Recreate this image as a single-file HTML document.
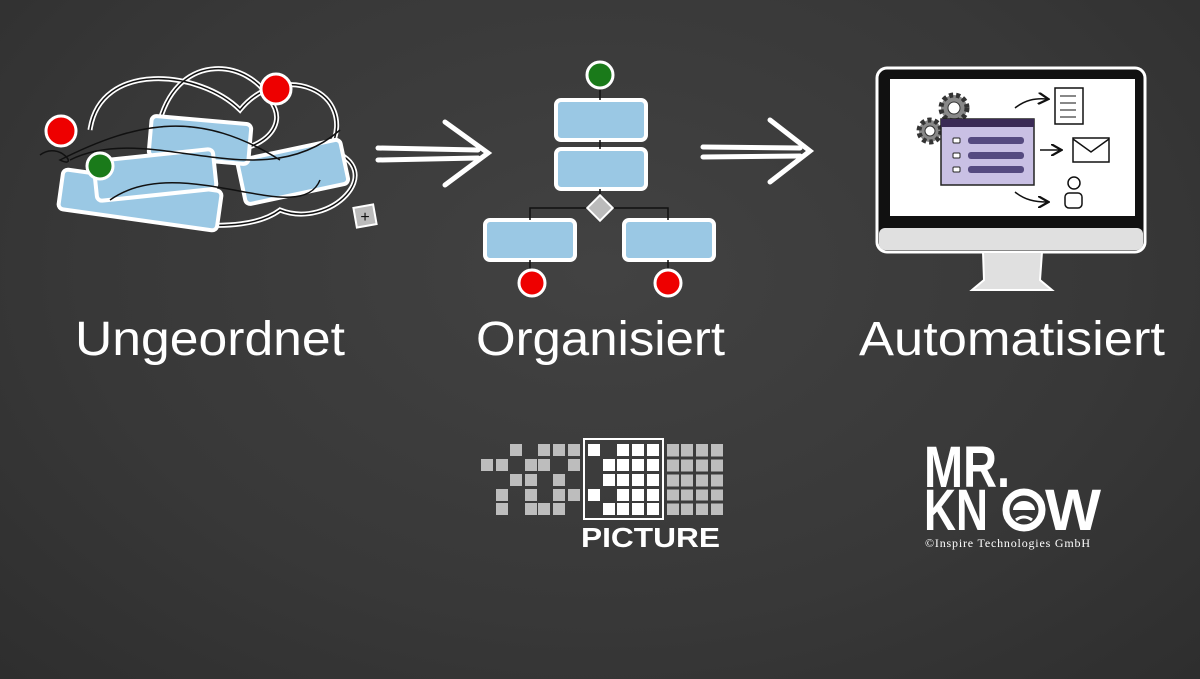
<!DOCTYPE html>
<html><head><meta charset="utf-8"><style>
html,body{margin:0;padding:0}
body{width:1200px;height:679px;overflow:hidden;background:radial-gradient(ellipse at 50% 40%,#424242 0%,#383838 60%,#2e2e2e 100%);font-family:"Liberation Sans",sans-serif;position:relative}
</style></head><body>
<svg width="1200" height="679" style="position:absolute;left:0;top:0">
<defs>
<marker id="ah" markerWidth="8" markerHeight="8" refX="6" refY="4" orient="auto"><path d="M0,0 L7,4 L0,8" fill="none" stroke="#111" stroke-width="1.5"/></marker>
</defs>
<!-- messy -->
<g stroke="#fff" stroke-width="5" fill="none">
<path d="M90,130 C100,60 200,70 240,110 C280,60 360,90 330,150 C390,170 330,230 280,210 C240,240 140,220 110,200"/>
<path d="M160,120 C180,50 250,60 270,100 C300,140 220,170 180,140"/>
</g>
<g stroke="#111" stroke-width="1.5" fill="none">
<path d="M90,130 C100,60 200,70 240,110 C280,60 360,90 330,150 C390,170 330,230 280,210 C240,240 140,220 110,200"/>
<path d="M160,120 C180,50 250,60 270,100 C300,140 220,170 180,140"/>
</g>
<g stroke="#fff" stroke-width="4" fill="#9ac8e4">
<rect x="60" y="180" width="160" height="40" rx="5" transform="rotate(8 140 200)"/>
<rect x="240" y="150" width="105" height="45" rx="5" transform="rotate(-12 290 170)"/>
<rect x="150" y="120" width="100" height="40" rx="5" transform="rotate(5 200 140)"/>
<rect x="95" y="155" width="120" height="40" rx="5" transform="rotate(-6 155 175)"/>
</g>
<g stroke="#111" stroke-width="1.5" fill="none">
<path d="M70,160 C150,120 260,200 340,130"/><path d="M110,200 C180,150 300,230 320,180"/>
<path d="M40,155 C60,140 80,170 60,160 C140,120 200,110 280,160"/>
</g>
<g stroke="#fff" stroke-width="3"><circle cx="61" cy="131" r="15" fill="#e00"/><circle cx="276" cy="89" r="15" fill="#e00"/><circle cx="100" cy="166" r="13" fill="#1a7a1a"/></g>
<rect x="355" y="206" width="20" height="20" fill="#bbb" stroke="#fff" stroke-width="2" transform="rotate(-10 365 216)"/>
<text x="365" y="222" font-size="16" text-anchor="middle" fill="#111">+</text>
<!-- arrows -->
<g stroke="#fff" stroke-width="5" fill="none" stroke-linecap="round">
<path d="M378,148 L478,150 M378,160 L478,158"/><path d="M445,122 L488,153 L445,185"/>
<path d="M703,147 L800,148 M703,157 L800,156"/><path d="M770,120 L810,151 L770,182"/>
</g>
<!-- organized -->
<g stroke="#fff" stroke-width="4" fill="#9ac8e4">
<rect x="556" y="100" width="90" height="40" rx="5"/><rect x="556" y="149" width="90" height="40" rx="5"/>
<rect x="485" y="220" width="90" height="40" rx="5"/><rect x="624" y="220" width="90" height="40" rx="5"/>
</g>
<g stroke="#111" stroke-width="1.5" fill="none">
<path d="M600,88 V100 M600,140 V149 M600,189 V198 M588,208 H530 V220 M612,208 H668 V220 M530,260 V270 M668,260 V270"/>
</g>
<g stroke="#fff" stroke-width="3"><circle cx="600" cy="75" r="13" fill="#1a7a1a"/><circle cx="532" cy="283" r="13" fill="#e00"/><circle cx="668" cy="283" r="13" fill="#e00"/></g>
<rect x="591" y="199" width="18" height="18" fill="#bbb" stroke="#fff" stroke-width="2" transform="rotate(45 600 208)"/>
<!-- monitor -->
<rect x="877" y="68" width="268" height="184" rx="10" fill="#111" stroke="#fff" stroke-width="3"/>
<rect x="890" y="79" width="245" height="137" fill="#fff"/>
<rect x="879" y="228" width="264" height="22" rx="6" fill="#e0e0e0"/>
<path d="M983,252 L1042,252 L1040,280 L1052,290 L972,290 L984,280 Z" fill="#e0e0e0" stroke="#fff" stroke-width="2"/>
<circle cx="954" cy="108" r="13" fill="#888" stroke="#333" stroke-width="5" stroke-dasharray="4 3"/><circle cx="954" cy="108" r="6" fill="#fff" stroke="#333"/>
<circle cx="930" cy="131" r="11" fill="#888" stroke="#333" stroke-width="5" stroke-dasharray="4 3"/><circle cx="930" cy="131" r="5" fill="#fff" stroke="#333"/>
<rect x="941" y="119" width="93" height="66" fill="#c9c0e4" stroke="#222" stroke-width="1.5"/>
<rect x="941" y="119" width="93" height="8" fill="#3a2a55"/>
<g fill="#554a80"><rect x="968" y="137" width="56" height="7" rx="3"/><rect x="968" y="152" width="56" height="7" rx="3"/><rect x="968" y="166" width="56" height="7" rx="3"/></g>
<g fill="#fff" stroke="#222"><rect x="953" y="138" width="7" height="5" rx="1"/><rect x="953" y="153" width="7" height="5" rx="1"/><rect x="953" y="167" width="7" height="5" rx="1"/></g>
<g stroke="#111" stroke-width="1.5" fill="none">
<path d="M1015,108 C1025,100 1035,98 1047,99" marker-end="url(#ah)"/><path d="M1040,150 H1060" marker-end="url(#ah)"/><path d="M1015,192 C1025,200 1035,202 1047,202" marker-end="url(#ah)"/>
<rect x="1055" y="88" width="28" height="36" fill="#fff"/><path d="M1060,96h16M1060,103h16M1060,110h16M1060,117h16" stroke-width="1"/>
<rect x="1073" y="138" width="36" height="24" fill="#fff"/><path d="M1073,139 L1091,152 L1109,139"/>
<circle cx="1074" cy="183" r="6"/><rect x="1065" y="193" width="17" height="15" rx="4"/>
</g>
<!-- titles -->
<g font-family="Liberation Sans" font-size="48" fill="#fff">
<text x="75" y="355" textLength="270" lengthAdjust="spacingAndGlyphs">Ungeordnet</text>
<text x="476" y="355" textLength="249" lengthAdjust="spacingAndGlyphs">Organisiert</text>
<text x="859" y="355" textLength="306" lengthAdjust="spacingAndGlyphs">Automatisiert</text>
</g>
<!-- picture logo -->
<g fill="#bdbdbd">
<rect x="510" y="444" width="12" height="12"/><rect x="538" y="444" width="12" height="12"/><rect x="553" y="444" width="12" height="12"/><rect x="568" y="444" width="12" height="12"/>
<rect x="481" y="459" width="12" height="12"/><rect x="496" y="459" width="12" height="12"/><rect x="525" y="459" width="12" height="12"/><rect x="538" y="459" width="12" height="12"/><rect x="568" y="459" width="12" height="12"/>
<rect x="510" y="474" width="12" height="12"/><rect x="525" y="474" width="12" height="12"/><rect x="553" y="474" width="12" height="12"/>
<rect x="496" y="489" width="12" height="12"/><rect x="525" y="489" width="12" height="12"/><rect x="553" y="489" width="12" height="12"/><rect x="568" y="489" width="12" height="12"/>
<rect x="496" y="503" width="12" height="12"/><rect x="525" y="503" width="12" height="12"/><rect x="538" y="503" width="12" height="12"/><rect x="553" y="503" width="12" height="12"/>
</g>
<g fill="#bdbdbd">
<rect x="667" y="444" width="12" height="71"/><rect x="681" y="444" width="12" height="71"/><rect x="696" y="444" width="12" height="71"/><rect x="711" y="444" width="12" height="71"/>
</g>
<g stroke="#3a3a3a" stroke-width="3"><path d="M665,458H725M665,473H725M665,488H725M665,502H725"/></g>
<rect x="584" y="439" width="79" height="80" fill="none" stroke="#fff" stroke-width="2"/>
<g fill="#fff">
<rect x="588" y="444" width="12" height="12"/><rect x="617" y="444" width="12" height="12"/><rect x="632" y="444" width="12" height="12"/><rect x="647" y="444" width="12" height="12"/>
<rect x="603" y="459" width="12" height="12"/><rect x="617" y="459" width="12" height="12"/><rect x="632" y="459" width="12" height="12"/><rect x="647" y="459" width="12" height="12"/>
<rect x="603" y="474" width="12" height="12"/><rect x="617" y="474" width="12" height="12"/><rect x="632" y="474" width="12" height="12"/><rect x="647" y="474" width="12" height="12"/>
<rect x="588" y="489" width="12" height="12"/><rect x="617" y="489" width="12" height="12"/><rect x="632" y="489" width="12" height="12"/><rect x="647" y="489" width="12" height="12"/>
<rect x="603" y="503" width="12" height="12"/><rect x="617" y="503" width="12" height="12"/><rect x="632" y="503" width="12" height="12"/><rect x="647" y="503" width="12" height="12"/>
</g>
<text x="581" y="547" font-family="Liberation Sans" font-weight="bold" font-size="28" fill="#fff" textLength="139" lengthAdjust="spacingAndGlyphs">PICTURE</text>
<!-- mr know -->
<text x="924" y="487" font-family="Liberation Sans" font-weight="bold" font-size="58" fill="#fff" textLength="86" lengthAdjust="spacingAndGlyphs">MR.</text>
<text x="924" y="530" font-family="Liberation Sans" font-weight="bold" font-size="58" fill="#fff" textLength="64" lengthAdjust="spacingAndGlyphs">KN</text>
<text x="1045" y="530" font-family="Liberation Sans" font-weight="bold" font-size="58" fill="#fff" textLength="56" lengthAdjust="spacingAndGlyphs">W</text>
<circle cx="1024" cy="510" r="18" fill="none" stroke="#fff" stroke-width="7"/>
<path d="M1013,510 a11,9 0 0 1 22,0 z" fill="#fff"/><path d="M1016,520 q8,-6 16,0" stroke="#fff" stroke-width="3" fill="none"/>
<text x="925" y="547" font-family="Liberation Serif" font-size="12" fill="#fff" textLength="165">©Inspire Technologies GmbH</text>
</svg>
</body></html>
